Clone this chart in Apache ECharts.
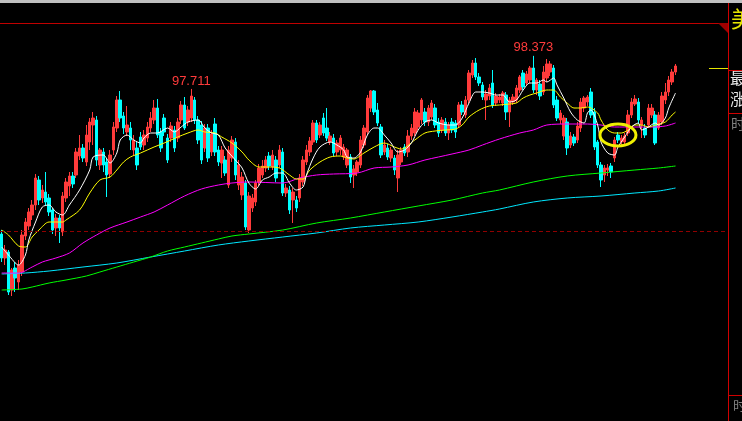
<!DOCTYPE html>
<html>
<head>
<meta charset="utf-8">
<script src="https://cdn.jsdelivr.net/npm/echarts@6/dist/echarts.min.js"></script>
<style>
html,body{margin:0;padding:0;background:#000;}
#c{width:742px;height:421px;}
</style>
</head>
<body>
<div id="c"></div>
<script>
// ---- data ----
const opens = [94.81,94.33,94.45,93.69,94.13,93.85,94.05,94.77,94.97,95.19,
95.39,95.89,95.53,95.65,95.53,95.29,94.93,95.13,94.85,95.53,
95.77,95.97,95.99,96.37,96.53,96.25,96.65,96.99,97.09,96.19,
96.45,96.25,96.01,96.49,96.93,97.49,97.17,96.85,96.93,96.49,
96.53,96.75,96.59,96.73,96.93,97.09,97.33,96.85,97.13,96.73,
96.73,96.89,96.73,97.09,97.39,97.05,97.13,97.49,97.09,96.99,
96.53,96.93,96.45,97.01,96.49,96.23,96.29,95.79,96.33,96.65,
95.79,95.59,95.83,94.89,95.33,95.45,95.85,95.99,96.13,96.37,
96.15,96.29,96.19,96.45,95.63,95.69,95.49,95.49,95.53,95.85,
96.25,96.45,96.65,97.03,96.79,97.13,96.93,96.65,96.73,96.45,
96.49,96.35,96.19,96.35,95.99,96.05,96.19,96.59,96.85,97.33,
97.67,97.29,96.95,96.45,96.53,96.33,96.33,95.93,96.25,96.55,
96.45,96.77,96.83,96.95,97.09,97.25,97.05,97.15,97.33,97.05,
96.89,97.05,96.83,97.05,97.03,96.99,97.39,97.19,97.49,97.99,
98.23,97.95,97.79,97.49,97.57,97.83,97.43,97.49,97.43,97.59,
97.25,97.45,97.49,97.69,98.03,97.83,97.89,98.13,97.69,97.81,
97.65,97.93,98.05,98.13,97.49,97.09,96.77,97.05,96.59,96.75,
96.69,96.93,97.33,97.45,97.65,97.25,96.65,96.19,95.99,96.09,
96.17,96.33,96.79,96.65,96.65,96.83,97.19,97.41,97.45,96.99,
96.93,96.99,97.19,97.19,96.93,97.05,97.49,97.65,97.85,98.05];
const closes = [94.33,94.49,93.65,94.09,93.93,94.19,94.79,95.05,95.25,95.39,
95.93,95.49,95.69,95.45,95.25,94.89,95.13,94.93,95.57,95.85,
95.97,95.81,96.45,96.53,96.33,96.79,97.05,97.13,96.29,96.49,
96.19,95.99,96.39,96.95,97.49,97.13,96.93,96.99,96.69,96.69,
96.19,96.55,96.79,96.95,97.13,97.33,96.79,96.53,96.85,96.29,
96.97,96.53,97.05,97.39,96.93,97.29,97.57,97.09,96.69,96.29,
96.93,96.33,96.81,96.45,96.25,96.49,96.03,96.49,96.69,95.99,
96.19,95.95,94.95,95.57,95.53,95.83,96.13,96.17,96.29,96.17,
96.39,95.93,96.49,95.63,95.73,95.29,95.65,95.33,95.93,96.29,
96.49,96.67,97.03,96.69,96.99,96.83,96.73,96.77,96.43,96.63,
96.73,96.55,96.49,95.95,96.11,96.25,96.69,96.93,97.53,97.67,
97.25,97.03,96.39,96.59,96.35,96.49,96.09,96.39,96.49,96.43,
96.77,96.93,97.25,97.23,97.49,97.05,97.33,97.43,96.99,96.83,
97.09,96.83,96.99,96.89,96.85,97.39,97.25,97.49,98.03,98.23,
97.95,97.83,97.55,97.61,97.73,97.39,97.57,97.55,97.63,97.25,
97.49,97.55,97.73,97.95,97.75,98.01,98.13,97.69,97.89,97.57,
98.05,98.21,98.21,97.39,97.13,97.23,97.13,96.53,96.77,96.63,
96.97,97.45,97.53,97.55,97.19,96.55,96.19,95.89,96.13,96.13,
96.05,96.69,96.69,96.73,96.77,97.19,97.45,97.51,97.09,97.09,
96.79,97.33,97.33,96.63,97.19,97.57,97.65,97.89,98.05,98.17];
const lows = [94.25,94.19,93.59,93.57,93.65,93.69,93.97,94.69,94.89,95.09,
95.29,95.39,95.43,95.37,95.17,94.81,94.77,94.63,94.77,95.45,
95.57,95.73,95.93,96.29,96.25,96.17,96.49,96.59,96.17,96.09,
96.05,95.55,95.93,96.39,96.85,97.05,96.81,96.77,96.49,96.39,
96.09,96.49,96.49,96.65,96.85,97.01,96.73,96.45,96.77,96.23,
96.65,96.45,96.65,97.01,96.89,96.97,97.05,97.01,96.61,96.21,
96.45,96.25,96.37,96.37,96.17,95.93,95.97,95.73,96.25,95.89,
95.69,95.49,94.89,94.83,95.25,95.37,95.77,95.93,96.05,96.09,
96.09,95.85,96.13,95.57,95.55,95.21,95.03,95.25,95.45,95.77,
96.19,96.37,96.59,96.63,96.73,96.77,96.67,96.59,96.37,96.37,
96.39,96.29,96.13,95.83,95.73,95.97,96.13,96.53,96.79,97.25,
97.19,96.97,96.33,96.39,96.29,96.25,95.99,95.65,96.19,96.37,
96.35,96.69,96.77,96.89,97.01,96.97,96.97,97.09,96.93,96.75,
96.83,96.77,96.69,96.83,96.73,96.93,97.19,97.13,97.43,97.93,
97.89,97.77,97.49,97.09,97.49,97.33,97.37,97.43,97.37,97.09,
96.95,97.39,97.43,97.63,97.69,97.77,97.83,97.63,97.59,97.49,
97.59,97.85,97.97,97.33,97.07,97.01,96.69,96.39,96.53,96.57,
96.63,96.85,97.25,97.37,97.13,96.49,96.13,95.75,95.85,95.97,
95.93,96.25,96.63,96.57,96.59,96.77,97.13,97.37,97.01,96.73,
96.73,96.93,97.13,96.59,96.89,96.99,97.41,97.57,97.79,97.99];
const highs = [94.89,94.59,94.49,94.13,94.25,94.29,94.89,95.13,95.33,95.49,
96.01,95.97,95.79,96.05,95.61,95.33,95.21,95.19,95.65,95.93,
96.05,96.05,96.53,96.79,96.61,96.99,97.13,97.25,97.17,96.53,
96.53,96.33,96.49,97.05,97.57,97.67,97.25,97.37,97.05,96.79,
96.65,96.85,96.89,97.05,97.25,97.49,97.51,96.93,97.21,96.81,
97.05,96.97,97.13,97.47,97.55,97.37,97.711,97.55,97.17,97.07,
97.01,97.01,96.89,97.13,96.57,96.57,96.37,96.57,96.77,96.73,
96.29,96.05,95.89,95.65,95.61,95.89,96.21,96.29,96.37,96.45,
96.49,96.37,96.59,96.53,95.81,95.77,95.73,95.57,96.01,96.37,
96.59,96.75,97.09,97.09,97.05,97.23,97.33,96.85,96.81,96.69,
96.79,96.61,96.53,96.41,96.19,96.29,96.77,96.99,97.59,97.69,
97.69,97.43,97.01,96.69,96.61,96.55,96.39,96.49,96.55,96.61,
96.89,97.01,97.33,97.29,97.53,97.33,97.39,97.49,97.41,97.13,
97.15,97.13,97.05,97.13,97.09,97.45,97.47,97.57,98.09,98.29,
98.33,98.03,97.85,97.69,97.81,98.09,97.63,97.61,97.67,97.65,
97.55,97.61,97.79,97.99,98.09,98.07,98.17,98.373,97.93,97.89,
98.17,98.31,98.27,98.19,97.57,97.29,97.19,97.13,96.85,96.81,
97.05,97.53,97.57,97.59,97.73,97.33,96.69,96.25,96.19,96.21,
96.23,96.75,96.85,96.79,96.83,97.29,97.53,97.59,97.53,97.15,
97.01,97.41,97.41,97.27,97.25,97.65,97.83,97.97,98.11,98.21];

// moving averages: [candle index, value]
const maWhite = [[0,94.55],[2,94.39],[5,94.19],[7,94.39],[8,94.69],[10,95.05],[12,95.35],[14,95.39],[16,95.25],[18,95.19],[20,95.39],[23,95.69],[26,96.09],[27,96.35],[30,96.39],[32,96.23],[34,96.43],[35,96.69],[37,96.79],[39,96.69],[41,96.63],[42,96.73],[44,96.83],[46,96.83],[49,96.93],[51,96.85],[53,96.95],[55,97.05],[58,97.09],[60,96.93],[62,96.83],[64,96.79],[66,96.53],[69,96.29],[71,96.13],[73,95.83],[75,95.71],[77,95.89],[79,95.95],[81,96.03],[83,96.03],[85,95.83],[87,95.69],[89,95.75],[90,95.99],[92,96.33],[94,96.55],[97,96.65],[99,96.59],[101,96.49],[102,96.35],[104,96.33],[106,96.45],[108,96.79],[110,96.93],[111,96.93],[113,96.79],[115,96.63],[117,96.45],[119,96.49],[121,96.63],[123,96.89],[125,97.05],[127,97.09],[129,97.03],[132,96.99],[134,96.99],[136,97.13],[138,97.43],[140,97.65],[142,97.65],[144,97.63],[146,97.59],[148,97.59],[150,97.45],[152,97.49],[154,97.69],[156,97.83],[158,97.83],[160,97.89],[161,97.85],[163,97.93],[164,97.79],[166,97.53],[168,97.25],[170,97.09],[172,97.03],[173,97.23],[174,97.29],[176,96.99],[177,96.65],[179,96.43],[181,96.39],[182,96.55],[184,96.75],[186,96.95],[188,97.03],[189,96.89],[191,96.95],[193,97.03],[194,96.99],[196,97.13],[197,97.33],[199,97.63]];
const maYellow = [[0,94.89],[2,94.79],[5,94.57],[7,94.55],[9,94.75],[11,94.89],[14,95.05],[18,95.05],[19,95.09],[23,95.29],[26,95.63],[29,95.89],[32,95.95],[34,96.09],[36,96.25],[38,96.35],[41,96.43],[45,96.55],[48,96.63],[52,96.75],[55,96.83],[58,96.89],[60,96.85],[63,96.83],[65,96.75],[68,96.63],[71,96.45],[73,96.29],[76,96.15],[79,96.15],[82,96.13],[85,95.99],[87,95.91],[89,95.91],[91,96.09],[94,96.25],[97,96.35],[100,96.37],[102,96.33],[104,96.31],[107,96.43],[110,96.55],[113,96.63],[116,96.55],[118,96.51],[122,96.69],[125,96.83],[128,96.87],[131,96.89],[134,96.91],[136,96.99],[138,97.15],[141,97.29],[144,97.37],[147,97.39],[150,97.41],[152,97.43],[154,97.53],[156,97.59],[158,97.63],[161,97.69],[163,97.69],[165,97.55],[167,97.43],[169,97.33],[171,97.33],[173,97.35],[176,97.23],[177,97.09],[179,96.89],[181,96.83],[183,96.83],[185,96.89],[187,96.99],[189,96.99],[191,96.95],[193,96.99],[196,97.05],[198,97.19],[199,97.25]];
const maMagenta = [[0,94.03],[5,94.03],[9,94.15],[12,94.25],[16,94.33],[20,94.43],[24,94.63],[28,94.79],[32,94.93],[37,95.05],[41,95.15],[45,95.25],[49,95.39],[54,95.57],[59,95.71],[64,95.79],[68,95.83],[73,95.85],[83,95.83],[88,95.93],[93,95.99],[98,96.01],[105,96.03],[110,96.13],[115,96.15],[120,96.19],[125,96.29],[129,96.35],[133,96.41],[138,96.49],[142,96.59],[147,96.71],[153,96.83],[157,96.89],[161,96.99],[167,97.01],[173,97.01],[177,96.99],[181,96.95],[187,96.95],[192,96.95],[196,96.97],[199,97.03]];
const maGreen = [[0,93.69],[6,93.71],[9,93.75],[14,93.83],[19,93.89],[25,93.97],[29,94.05],[34,94.15],[39,94.25],[44,94.35],[49,94.47],[54,94.55],[59,94.63],[64,94.71],[68,94.77],[73,94.81],[83,94.89],[93,95.03],[103,95.13],[113,95.25],[123,95.37],[133,95.49],[142,95.63],[147,95.69],[157,95.85],[167,95.97],[177,96.03],[187,96.09],[194,96.13],[199,96.17]];
const maCyan = [[0,94.01],[7,94.03],[14,94.07],[24,94.15],[34,94.23],[44,94.35],[54,94.47],[64,94.59],[73,94.67],[83,94.75],[93,94.83],[103,94.93],[113,94.99],[123,95.05],[133,95.15],[142,95.25],[147,95.31],[157,95.45],[167,95.53],[177,95.57],[187,95.63],[194,95.67],[199,95.73]];

const refLevel = 94.87;
const peakLabels = [[56, 97.711], [157, 98.373]];
const slotCount = 215;
const categories = Array.from({length: slotCount}, (_, i) => String(i + 1));

// ---- chart ----
const chart = echarts.init(document.getElementById('c'), null, {renderer: 'canvas'});
const kData = opens.map((o, i) => [o, closes[i], lows[i], highs[i]]);
const RED = '#ff3b3b', CY = '#00ffff';

function maSeries(name, data, color, smooth) {
  return {name, type: 'line', data, symbol: 'none', smooth: smooth,
    lineStyle: {color, width: 1}, silent: true, z: 3};
}

chart.setOption({
  backgroundColor: '#000',
  animation: false,
  grid: {left: 0, top: 23, width: 728, height: 398, containLabel: false},
  xAxis: {type: 'category', data: categories, boundaryGap: true, show: false},
  yAxis: {type: 'value', min: 91.07, max: 99.03, show: false, splitLine: {show: false}},
  series: [
    {
      type: 'candlestick', data: kData, barWidth: 3, z: 2,
      itemStyle: {color: RED, color0: CY, borderColor: RED, borderColor0: CY, borderWidth: 1},
      markLine: {
        silent: true, symbol: 'none',
        data: [{yAxis: refLevel}],
        lineStyle: {color: '#900000', type: [4, 3], width: 1},
        label: {show: false}
      },
      markPoint: {
        symbol: 'circle', symbolSize: 1, silent: true,
        itemStyle: {color: 'rgba(0,0,0,0)'},
        label: {show: true, position: 'top', distance: 1, color: RED,
          fontSize: 13, fontFamily: 'Liberation Sans, Arial, sans-serif',
          formatter: p => p.value.toFixed(3)},
        data: peakLabels.map(d => ({coord: d, value: d[1]}))
      }
    },
    maSeries('MA250', maCyan, '#00e8ff', 0.3),
    maSeries('MA120', maGreen, '#00ff00', 0.3),
    maSeries('MA60', maMagenta, '#ff00ff', 0.3),
    maSeries('MA10', maYellow, '#ffff00', 0.3),
    maSeries('MA5', maWhite, '#ffffff', 0.3)
  ]
});

const ctr = chart.convertToPixel({seriesIndex: 0}, [182, 96.79]);
const cjk = '"Noto Sans CJK SC", sans-serif';
chart.setOption({
  graphic: [
    {type: 'rect', shape: {x: 0, y: 0, width: 742, height: 3}, style: {fill: '#c0c0c0'}, silent: true},
    {type: 'rect', shape: {x: 0, y: 23, width: 728, height: 1}, style: {fill: '#c00000'}, silent: true},
    {type: 'rect', shape: {x: 728, y: 3, width: 1, height: 418}, style: {fill: '#d00000'}, silent: true},
    {type: 'polygon', shape: {points: [[718, 23], [728, 23], [728, 33]]}, style: {fill: '#a00000'}, silent: true},
    {type: 'rect', shape: {x: 728, y: 70, width: 14, height: 1}, style: {fill: '#d00000'}, silent: true},
    {type: 'rect', shape: {x: 728, y: 113, width: 14, height: 1}, style: {fill: '#d00000'}, silent: true},
    {type: 'rect', shape: {x: 728, y: 395, width: 14, height: 1}, style: {fill: '#d00000'}, silent: true},
    {type: 'rect', shape: {x: 709, y: 68, width: 19, height: 1}, style: {fill: '#e6e600'}, silent: true},
    {type: 'text', style: {text: '美', x: 731, y: 8, fill: '#e6e600', font: '22px ' + cjk, verticalAlign: 'top'}, silent: true},
    {type: 'text', style: {text: '最', x: 730, y: 70, fill: '#e8e8e8', font: '16px ' + cjk, verticalAlign: 'top'}, silent: true},
    {type: 'text', style: {text: '涨', x: 730, y: 91, fill: '#e8e8e8', font: '16px ' + cjk, verticalAlign: 'top'}, silent: true},
    {type: 'text', style: {text: '时', x: 731, y: 117, fill: '#808080', font: '14px ' + cjk, verticalAlign: 'top'}, silent: true},
    {type: 'text', style: {text: '时', x: 733, y: 399, fill: '#808080', font: '13px ' + cjk, verticalAlign: 'top'}, silent: true},
    {type: 'ellipse', shape: {cx: ctr[0], cy: ctr[1], rx: 18, ry: 11},
      style: {stroke: '#f0f000', fill: 'none', lineWidth: 3}, z: 10, silent: true}
  ]
});
</script>
</body>
</html>
